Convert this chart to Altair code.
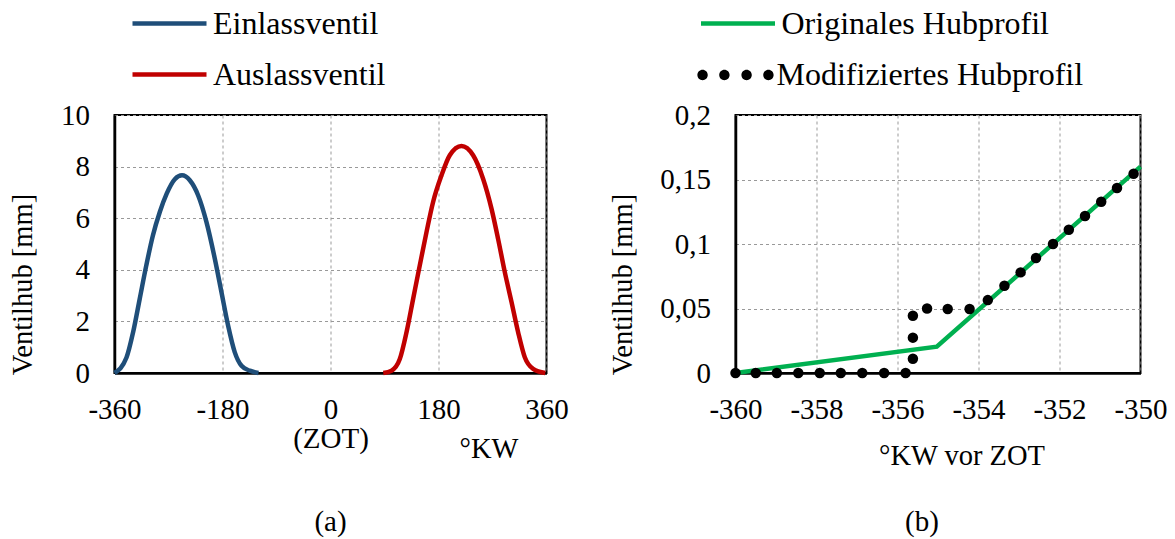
import altair as alt
import pandas as pd

FONT = "Liberation Serif"

# ---- panel (a): valve lift over crank angle ----
ein_x = [-360, -340, -329, -318, -307, -296, -284.5, -273, -259.5, -247.5, -234.5,
         -220.7, -206.7, -192.8, -181.7, -170.7, -159.5, -148.3, -134.5, -120]
ein_y = [0, 0.6, 1.58, 2.87, 4.17, 5.33, 6.24, 6.95, 7.51, 7.66, 7.47,
         6.89, 5.85, 4.43, 3.13, 1.84, 0.8, 0.28, 0.09, 0]
aus_x = [88, 101.7, 115.5, 126.7, 137.7, 148.8, 160, 171, 185, 198.8, 218.3,
         237.7, 254.3, 268.3, 279.3, 290.5, 301.7, 312.7, 323.8, 337.7, 358]
aus_y = [0, 0.09, 0.54, 1.58, 2.87, 4.17, 5.46, 6.63, 7.66, 8.44, 8.8,
         8.44, 7.53, 6.37, 5.2, 3.91, 2.75, 1.58, 0.61, 0.16, 0]
ventile = ["Einlassventil", "Auslassventil"]
x_ticks_a = [-360, -180, 0, 180, 360]
y_ticks_a = [0, 2, 4, 6, 8, 10]

# ---- panel (b): detail of lift profile ----
orig_x = [-360, -355.03, -350]
orig_y = [0, 0.0204, 0.16]
mod_x = [-360, -359.5, -358.98, -358.45, -357.92, -357.4, -356.87, -356.33, -355.8,
         -355.62, -355.62, -355.62, -355.27, -354.76, -354.22,
         -353.77, -353.36, -352.96, -352.58, -352.16, -351.77, -351.37, -350.97,
         -350.58, -350.17]
mod_y = [0, 0, 0, 0, 0, 0, 0, 0, 0,
         0.011, 0.0274, 0.0444, 0.050, 0.0496, 0.0496,
         0.0565, 0.0677, 0.078, 0.0891, 0.1, 0.111, 0.1217, 0.1328,
         0.1434, 0.1545]
profile = ["Originales Hubprofil", "Modifiziertes Hubprofil"]
x_ticks_b = [-360, -358, -356, -354, -352, -350]
y_ticks_b = [0, 0.05, 0.1, 0.15, 0.2]

ein_df = pd.DataFrame({"KW": ein_x, "Hub": ein_y, "Ventil": [ventile[0]] * len(ein_x)})
aus_df = pd.DataFrame({"KW": aus_x, "Hub": aus_y, "Ventil": [ventile[1]] * len(aus_x)})
orig_df = pd.DataFrame({"KW": orig_x, "Hub": orig_y, "Serie": [profile[0]] * len(orig_x)})
mod_df = pd.DataFrame({"KW": mod_x, "Hub": mod_y, "Serie": [profile[1]] * len(mod_x)})

legend_common = dict(
    orient="none", title=None, padding=0, labelFont=FONT, labelFontSize=32,
    labelColor="black", symbolSize=5476, labelOffset=4, labelLimit=600,
)
stroke_legend = dict(symbolType="stroke", symbolStrokeWidth=4.5, **legend_common)
caption_style = dict(orient="bottom", anchor="middle", frame="group", baseline="alphabetic",
                     font=FONT, fontSize=29, fontWeight="normal", color="black")

xa = alt.X("KW:Q", scale=alt.Scale(domain=[-360, 360], nice=False),
           axis=alt.Axis(values=x_ticks_a, title="°KW",
                         labelExpr="datum.value == 0 ? ['0', '(ZOT)'] : '' + datum.value",
                         labelLineHeight=29,
                         titleX=374, titleY=84, titleBaseline="alphabetic", titleAlign="center"))
ya = alt.Y("Hub:Q", scale=alt.Scale(domain=[0, 10], nice=False),
           axis=alt.Axis(values=y_ticks_a, title="Ventilhub [mm]", titleX=-83, titleY=169))

ein_line = alt.Chart(ein_df).mark_line(interpolate="monotone", strokeWidth=4.5).encode(
    x=xa, y=ya,
    color=alt.Color("Ventil:N", scale=alt.Scale(domain=[ventile[0]], range=["#1F4E79"]),
                    legend=alt.Legend(legendX=15.5, legendY=-131, **stroke_legend)),
)
aus_line = alt.Chart(aus_df).mark_line(interpolate="monotone", strokeWidth=4.5).encode(
    x=xa, y=ya,
    color=alt.Color("Ventil:N", scale=alt.Scale(domain=[ventile[1]], range=["#C00000"]),
                    legend=alt.Legend(legendX=15.5, legendY=-80, **stroke_legend)),
)
left = alt.layer(ein_line, aus_line).resolve_scale(color="independent").properties(
    width=432, height=258,
    title=alt.TitleParams("(a)", offset=68, **caption_style),
)

r = 0.14
dots_path = " ".join(
    f"M{cx - r:.3f},0 A{r},{r} 0 1,0 {cx + r:.3f},0 A{r},{r} 0 1,0 {cx - r:.3f},0 Z"
    for cx in [-0.89, -0.30, 0.30, 0.89]
)

xb = alt.X("KW:Q", scale=alt.Scale(domain=[-360, -350], nice=False),
           axis=alt.Axis(values=x_ticks_b, title="°KW vor ZOT",
                         labelExpr="'' + datum.value",
                         titleX=226, titleY=91, titleBaseline="alphabetic", titleAlign="center"))
yb = alt.Y("Hub:Q", scale=alt.Scale(domain=[0, 0.2], nice=False),
           axis=alt.Axis(values=y_ticks_b, title="Ventilhub [mm]",
                         titleX=-104.5, titleY=169,
                         labelExpr="replace(format(datum.value, '~g'), '.', ',')"))

right_line = alt.Chart(orig_df).mark_line(strokeWidth=4.5).encode(
    x=xb, y=yb,
    color=alt.Color("Serie:N", scale=alt.Scale(domain=[profile[0]], range=["#00B050"]),
                    legend=alt.Legend(legendX=-37, legendY=-131, **stroke_legend)),
)
right_pts = alt.Chart(mod_df).mark_circle(size=110, opacity=1).encode(
    x=xb, y=yb,
    color=alt.Color("Serie:N", scale=alt.Scale(domain=[profile[1]], range=["black"]),
                    legend=alt.Legend(legendX=-37, legendY=-77, symbolType=dots_path,
                                      symbolStrokeWidth=0, symbolFillColor="black",
                                      symbolOpacity=1, **legend_common)),
)
right = alt.layer(right_line, right_pts).resolve_scale(color="independent").properties(
    width=405, height=258,
    title=alt.TitleParams("(b)", offset=61, dx=-16, **caption_style),
)

chart = alt.hconcat(left, right, spacing=189, bounds="flush").resolve_scale(
    color="independent", x="independent", y="independent"
).properties(
    background="white", padding={"left": 7.5, "top": -17, "right": 5, "bottom": 5}
).configure_view(
    stroke="black", strokeWidth=2
).configure_axis(
    labelFont=FONT, labelFontSize=29, labelColor="black", labelFlush=False,
    titleFont=FONT, titleFontSize=28.5, titleFontWeight="normal", titleColor="black",
    titleBaseline="alphabetic", titleAlign="center",
    grid=True, gridColor="#999999", gridDash=[3, 3], gridWidth=1,
    domainColor="black", domainWidth=2.5, ticks=False,
).configure_axisX(
    labelPadding=22,
).configure_axisY(
    labelPadding=25,
)

chart.save("out.html", embed_options={"renderer": "svg", "actions": False})
